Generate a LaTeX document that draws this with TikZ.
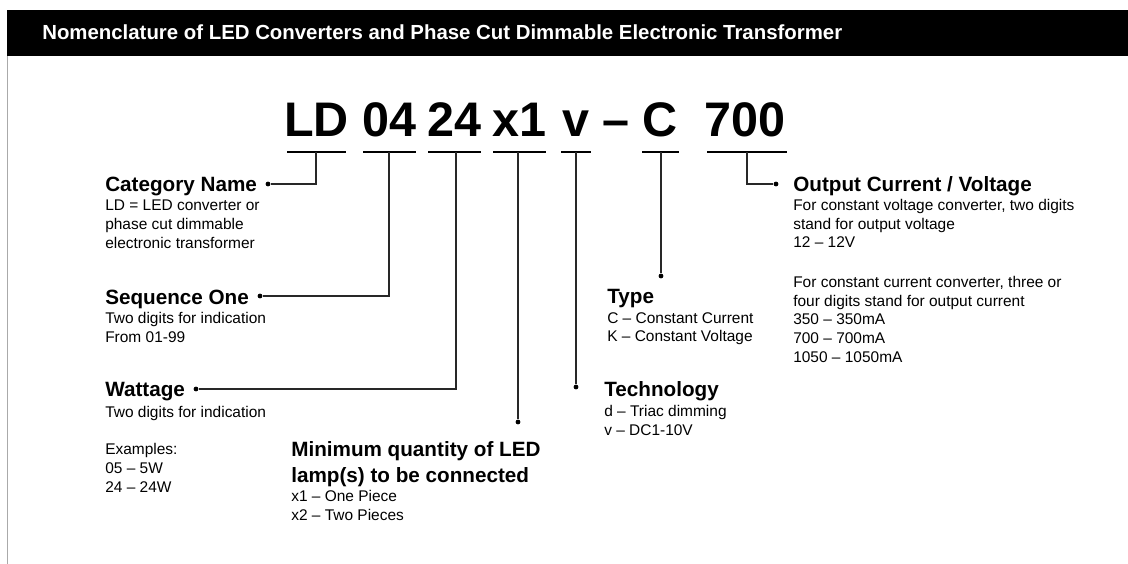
\documentclass[tikz,border=0pt]{standalone}
\usepackage{fontspec}
\setmainfont{Liberation Sans}
\usetikzlibrary{positioning}
\definecolor{leadgray}{RGB}{40,40,40}
\definecolor{railgray}{RGB}{170,170,170}
\newcommand{\codefont}{\fontsize{34.5pt}{40pt}\selectfont\bfseries}
\newcommand{\headfont}{\fontsize{14.7pt}{18.4pt}\selectfont\bfseries}
\newcommand{\bodyfont}{\fontsize{11pt}{13.26pt}\selectfont}
\newcommand{\titlefont}{\fontsize{14.5pt}{17pt}\selectfont\bfseries}

\begin{document}
\begin{tikzpicture}[x=0.025cm, y=-0.025cm,
  codepart/.style={font=\codefont, inner sep=0, anchor=base},
  heading/.style={font=\headfont, inner sep=0, anchor=base west},
  bodytext/.style={font=\bodyfont, inner sep=0, anchor=north west, align=left},
  underline/.style={black, line width=0.9pt},
  leader/.style={leadgray, line width=0.9pt},
  tipdot/.style={circle, fill=black, inner sep=0, minimum size=3.4pt}]
  \useasboundingbox (0,0) rectangle (1128,564);
  % Title bar and left rail
  \fill[black] (7,10) rectangle (1128,56);
  \draw[railgray, line width=1.1pt] (7.5,56) -- (7.5,564);
  \node[font=\titlefont, text=white, inner sep=0, anchor=base west] (title) at (42,40)
    {Nomenclature of LED Converters and Phase Cut Dimmable Electronic Transformer};
  % Code segments, underlines and stem points
  \foreach \name/\cx/\lx/\rx/\sx in {LD/316.5/287/346/316, 04/389.5/363/416/389,
      24/454.5/428/481/456, x1/519.5/493/546/518, v/576/561/591/576,
      C/660.5/642/679/661, 700/745/707/787/747} {
    \node[codepart] (seg-\name) at (\cx,137) {\name};
    \draw[underline] (\lx,152) -- (\rx,152);
    \coordinate (u-\name) at (\sx,152);
  }
  \node[codepart] (dash) at (616,137) {–};
  % Category name
  \node[heading] (catname) at (105,191) {Category Name};
  \node[bodytext] (catbody) at (105,200) {LD = LED converter or\\phase cut dimmable\\electronic transformer};
  \node[tipdot] (catdot) at (268,184) {};
  \draw[leader] (u-LD) |- (catdot);
  % Sequence one
  \node[heading] (seqname) at (105,304) {Sequence One};
  \node[bodytext] (seqbody) at (105,312) {Two digits for indication\\From 01-99};
  \node[tipdot] (seqdot) at (260,296) {};
  \draw[leader] (u-04) |- (seqdot);
  % Wattage
  \node[heading] (wattname) at (105,396) {Wattage};
  \node[bodytext] (wattbody) at (105,406) {Two digits for indication\\[13.26pt]Examples:\\05 – 5W\\24 – 24W};
  \node[tipdot] (wattdot) at (196,389) {};
  \draw[leader] (u-24) |- (wattdot);
  % Minimum quantity
  \node[heading, anchor=north west, align=left] (minname) at (291,441) {Minimum quantity of LED\\lamp(s) to be connected};
  \node[bodytext] (minbody) at (291,490) {x1 – One Piece\\x2 – Two Pieces};
  \node[tipdot] (mindot) at (518,422) {};
  \draw[leader] (u-x1) -- (mindot);
  % Technology
  \node[heading] (techname) at (604,396) {Technology};
  \node[bodytext] (techbody) at (604,405) {d – Triac dimming\\v – DC1-10V};
  \node[tipdot] (techdot) at (576,387) {};
  \draw[leader] (u-v) -- (techdot);
  % Type
  \node[heading] (typename) at (607,303) {Type};
  \node[bodytext] (typebody) at (607,312) {C – Constant Current\\K – Constant Voltage};
  \node[tipdot] (typedot) at (661,276) {};
  \draw[leader] (u-C) -- (typedot);
  % Output current / voltage
  \node[heading] (outname) at (793,191) {Output Current / Voltage};
  \node[bodytext] (outbody) at (793,199) {For constant voltage converter, two digits\\stand for output voltage\\12 – 12V\\[15pt]For constant current converter, three or\\four digits stand for output current\\350 – 350mA\\700 – 700mA\\1050 – 1050mA};
  \node[tipdot] (outdot) at (776,184) {};
  \draw[leader] (u-700) |- (outdot);
\end{tikzpicture}
\end{document}
